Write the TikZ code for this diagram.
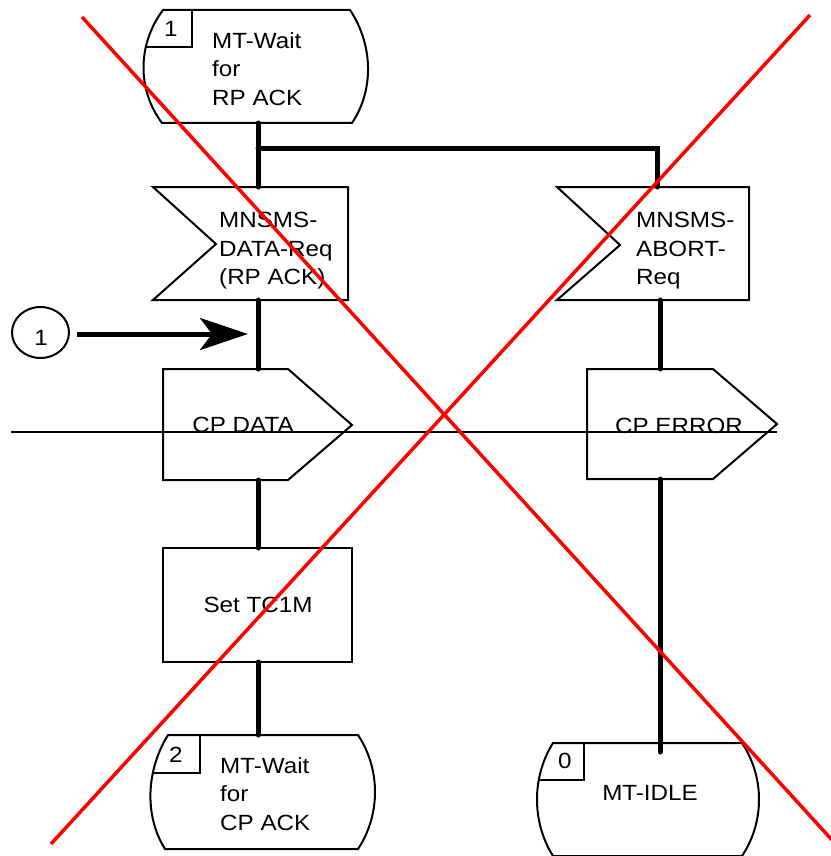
\documentclass[tikz,border=0pt]{standalone}
\usepackage{fontspec}
\setmainfont{Liberation Sans}
\newfontfamily\sdlfont[FakeStretch=1.1]{Liberation Sans}
\usetikzlibrary{arrows.meta,shapes.geometric}
% state symbol: x1 top-left, x2 top-right, top y, x bottom-left, x bottom-right, bottom y, left bulge, right bulge
\newcommand\statepath[8]{(#1,#3) -- (#2,#3) .. controls ({#2+#8/0.75},{#3+0.3*(#6-#3)}) and ({#5+#8/0.75},{#6-0.3*(#6-#3)}) .. (#5,#6) -- (#4,#6) .. controls ({#4-#7/0.75},{#6-0.3*(#6-#3)}) and ({#1-#7/0.75},{#3+0.3*(#6-#3)}) .. cycle}
\begin{document}
\begin{tikzpicture}[x=1pt,y=-1pt,
  outline/.style={draw=black,line width=2pt,line join=miter},
  flow/.style={draw=black,line width=5pt,line cap=round},
  lbl/.style={font=\sdlfont\fontsize{22}{28.5}\selectfont,inner sep=0pt,align=left},
  cross/.style={draw=red,line width=3.5pt},
  ]
\useasboundingbox (0,0) rectangle (830,856);

% ---------- state 1 (top)
\begin{scope}
\clip \statepath{163}{350}{10}{162}{352}{123}{19}{17};
\draw[outline] (0,47) -| (192,0);
\end{scope}
\draw[outline] \statepath{163}{350}{10}{162}{352}{123}{19}{17};
\node[lbl,anchor=base west] (n1) at (164,37) {1};
\node[lbl,anchor=north west] (s1) at (212,32) {MT-Wait\\for\\RP ACK};
\coordinate (s1b) at (258,123);

% ---------- input MNSMS-DATA-Req
\draw[outline] (153,187) -- (348,187) -- (348,300) -- (153,300) -- (216,244) -- cycle;
\node[lbl,anchor=north west] (in1) at (219,212) {MNSMS-\\DATA-Req\\(RP ACK)};
\coordinate (in1t) at (258,187);
\coordinate (in1b) at (258,300);

% ---------- input MNSMS-ABORT-Req
\draw[outline] (557,187) -- (749,187) -- (749,300) -- (557,300) -- (620,245) -- cycle;
\node[lbl,anchor=north west] (in2) at (636,212) {MNSMS-\\ABORT-\\Req};
\coordinate (in2t) at (657,187);
\coordinate (in2b) at (660,300);

% ---------- output CP DATA
\draw[outline] (163,369) -- (288,369) -- (352,425) -- (288,480) -- (163,480) -- cycle;
\node[lbl,anchor=base] (out1) at (243,432) {CP DATA};
\coordinate (out1t) at (258,369);
\coordinate (out1b) at (258,480);

% ---------- output CP ERROR
\draw[outline] (587,369) -- (713,369) -- (777,424) -- (713,479) -- (587,479) -- cycle;
\node[lbl,anchor=base] (out2) at (679,433) {CP ERROR};
\coordinate (out2t) at (660,369);
\coordinate (out2b) at (660,479);

% ---------- task Set TC1M
\draw[outline] (163,548) rectangle (352,662);
\node[lbl,anchor=center] (task) at (258,605) {Set TC1M};
\coordinate (taskt) at (258,548);
\coordinate (taskb) at (258,662);

% ---------- state 2 (bottom left)
\begin{scope}
\clip \statepath{168}{358}{735}{165}{358}{849}{16}{17};
\draw[outline] (0,773) -| (200,700);
\end{scope}
\draw[outline] \statepath{168}{358}{735}{165}{358}{849}{16}{17};
\node[lbl,anchor=base west] (n2) at (169,762) {2};
\node[lbl,anchor=north west] (s2) at (220,757) {MT-Wait\\for\\CP ACK};
\coordinate (s2t) at (258,735);

% ---------- state 0 (bottom right)
\begin{scope}
\clip \statepath{553}{742}{743}{553}{742}{856}{16}{17};
\draw[outline] (0,780) -| (584,700);
\end{scope}
\draw[outline] \statepath{553}{742}{743}{553}{742}{856}{16}{17};
\node[lbl,anchor=base west] (n0) at (558,768) {0};
\node[lbl,anchor=base] (s0) at (650,800) {MT-IDLE};
\coordinate (s0t) at (660,752);

% ---------- connector 1
\node[draw,ellipse,line width=2pt,minimum width=57pt,minimum height=51pt,inner sep=0pt] (con) at (40.5,332.5) {};
\node[lbl,anchor=base] (conlbl) at (41,345) {1};
\coordinate (arrS) at (77,334);
\coordinate (arrE) at (248,334);

% ---------- flow lines
\coordinate (br) at (258,148);
\draw[flow] (s1b) -- (in1t);
\draw[flow,line join=miter] (br) -| (in2t);
\draw[flow] (in1b) -- (out1t);
\draw[flow] (out1b) -- (taskt);
\draw[flow] (taskb) -- (s2t);
\draw[flow] (in2b) -- (out2t);
\draw[flow] (out2b) -- (s0t);
\draw[line width=5pt,-{Stealth[length=48pt,width=32pt,inset=12pt]}] (arrS) -- (arrE);

% ---------- thin horizontal line
\coordinate (hl1) at (11,432);
\coordinate (hl2) at (777,432);
\draw[line width=1.6pt] (hl1) -- (hl2);

% ---------- red cross
\coordinate (r1a) at (82,17);
\coordinate (r1b) at (832,840);
\coordinate (r2a) at (810,15);
\coordinate (r2b) at (51,844);
\draw[cross] (r1a) -- (r1b);
\draw[cross] (r2a) -- (r2b);
\end{tikzpicture}
\end{document}
